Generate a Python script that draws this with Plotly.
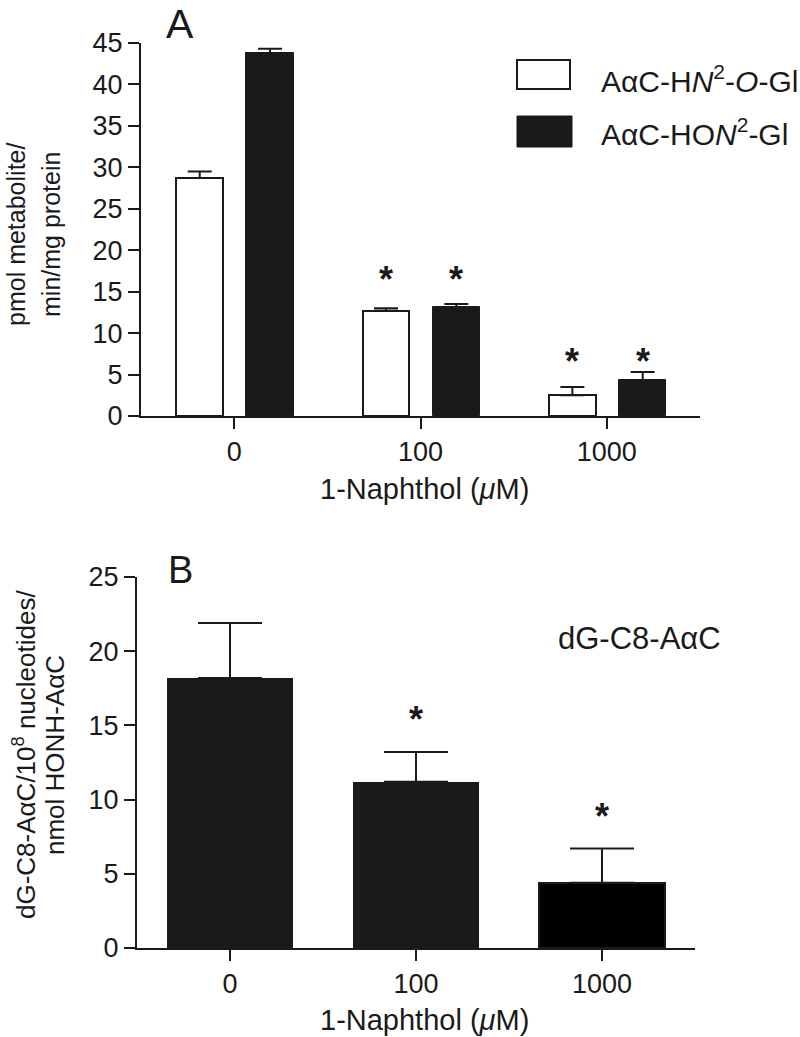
import plotly.graph_objects as go

# ---------------- data ----------------
categories = ["0", "100", "1000"]

# Panel A
a_ho_gl_mean = [28.7, 12.7, 2.5]      # AαC-HN2-O-Gl (white)
a_ho_gl_err = [0.8, 0.3, 1.0]
a_hon_gl_mean = [43.8, 13.1, 4.3]     # AαC-HON2-Gl (black)
a_hon_gl_err = [0.5, 0.4, 1.0]
a_sig_level = [None, 17.1, 7.2]       # height of the "*" marks per group

# Panel B
b_mean = [18.2, 11.2, 4.4]
b_err = [3.7, 2.0, 2.3]
b_sig_level = [None, 15.8, 9.2]

A_YTICKS = [0, 5, 10, 15, 20, 25, 30, 35, 40, 45]
B_YTICKS = [0, 5, 10, 15, 20, 25]

# ---------------- style ----------------
W, H = 800, 1037
FONT = "Arial"
DARK = "#1a1a1a"


def px(x):
    return x / W


def py(y):
    return 1 - y / H


xs = list(range(len(categories)))

fig = go.Figure()

A_W1, A_OFF1 = 0.25, -0.31
A_W2, A_OFF2 = 0.255, 0.065

fig.add_trace(go.Bar(
    x=xs, y=a_ho_gl_mean, width=A_W1, offset=A_OFF1,
    marker=dict(color="white", line=dict(color=DARK, width=2)),
    error_y=dict(type="data", array=a_ho_gl_err, arrayminus=[0] * 3, symmetric=False,
                 color=DARK, thickness=2, width=12),
    xaxis="x", yaxis="y", showlegend=False, name="AαC-HN2-O-Gl"))

fig.add_trace(go.Bar(
    x=xs, y=a_hon_gl_mean, width=A_W2, offset=A_OFF2,
    marker=dict(color=DARK, line=dict(color=DARK, width=1)),
    error_y=dict(type="data", array=a_hon_gl_err, arrayminus=[0] * 3, symmetric=False,
                 color=DARK, thickness=2, width=12),
    xaxis="x", yaxis="y", showlegend=False, name="AαC-HON2-Gl"))

B_W = 0.68
fig.add_trace(go.Bar(
    x=xs, y=b_mean, width=B_W,
    marker=dict(color=[DARK, DARK, "#000000"], line=dict(color=DARK, width=[0, 0, 2])),
    error_y=dict(type="data", array=b_err, arrayminus=[0] * 3, symmetric=False,
                 color=DARK, thickness=2, width=32),
    xaxis="x2", yaxis="y2", showlegend=False, name="dG-C8-AαC"))

annotations = []
STAR_FONT = dict(family=FONT, size=36, color=DARK)
STAR_SHIFT = -28  # puts the asterisk glyph centre on the given level


def ann(x, y, text, font, **kw):
    d = dict(x=x, y=y, xref="paper", yref="paper", text=text, showarrow=False,
             xanchor="center", yanchor="middle", font=font)
    d.update(kw)
    return d


def star(x, y, xref, yref):
    return dict(x=x, y=y, xref=xref, yref=yref, text="<b>*</b>", showarrow=False,
                xanchor="center", yanchor="bottom", yshift=STAR_SHIFT, font=STAR_FONT)


for i in xs:
    if a_sig_level[i] is not None:
        annotations.append(star(i + A_OFF1 + A_W1 / 2, a_sig_level[i], "x", "y"))
        annotations.append(star(i + A_OFF2 + A_W2 / 2, a_sig_level[i], "x", "y"))
    if b_sig_level[i] is not None:
        annotations.append(star(i, b_sig_level[i], "x2", "y2"))

annotations.append(ann(px(180), 1.0, "A", dict(family=FONT, size=41, color=DARK),
                       yanchor="top", borderpad=0))
annotations.append(ann(px(180), py(570), "B", dict(family=FONT, size=38, color=DARK)))

TFONT = dict(family=FONT, size=29, color=DARK)
annotations.append(ann(px(424), py(489), "1-Naphthol (<i>μ</i>M)", TFONT))
annotations.append(ann(px(424), py(1020), "1-Naphthol (<i>μ</i>M)", TFONT))

YT_A = dict(family=FONT, size=25, color=DARK)
annotations.append(ann(px(16), py(235), "pmol metabolite/", YT_A, textangle=-90))
annotations.append(ann(px(51), py(235), "min/mg protein", YT_A, textangle=-90))
YT_B = dict(family=FONT, size=26, color=DARK)
annotations.append(ann(px(24), py(755), "dG-C8-AαC/10<sup>8</sup> nucleotides/", YT_B, textangle=-90))
annotations.append(ann(px(55), py(755), "nmol HONH-AαC", YT_B, textangle=-90))

annotations.append(ann(px(556), py(638), "dG-C8-AαC", dict(family=FONT, size=31, color=DARK),
                       xanchor="left"))

LFONT = dict(family=FONT, size=30, color=DARK)
annotations.append(ann(px(599), py(79), "AαC-H<i>N</i><sup>2</sup>-<i>O</i>-Gl", LFONT, xanchor="left"))
annotations.append(ann(px(599), py(132), "AαC-HO<i>N</i><sup>2</sup>-Gl", LFONT, xanchor="left"))

shapes = [
    dict(type="rect", xref="paper", yref="paper", x0=px(517), x1=px(570), y0=py(89), y1=py(60),
         fillcolor="white", line=dict(color=DARK, width=2)),
    dict(type="rect", xref="paper", yref="paper", x0=px(517), x1=px(572), y0=py(147), y1=py(116),
         fillcolor=DARK, line=dict(color=DARK, width=1)),
]

axis_common = dict(showgrid=False, zeroline=False, showline=True, linecolor=DARK, linewidth=2,
                   ticks="outside", ticklen=11, tickwidth=2, tickcolor=DARK, automargin=False,
                   tickfont=dict(family=FONT, size=27, color=DARK))

fig.update_layout(
    template="none",
    width=W, height=H, autosize=False,
    margin=dict(l=0, r=0, t=0, b=0, pad=0, autoexpand=False),
    paper_bgcolor="white", plot_bgcolor="white",
    font=dict(family=FONT, color=DARK),
    bargap=0,
    hovermode=False,
    xaxis=dict(domain=[px(141), px(700)], range=[-0.5, 2.5], tickvals=xs, ticktext=categories,
               anchor="y", **axis_common),
    yaxis=dict(domain=[py(416), py(43)], range=[0, 45], tickvals=A_YTICKS, anchor="x",
               **axis_common),
    xaxis2=dict(domain=[px(137), px(695)], range=[-0.5, 2.5], tickvals=xs, ticktext=categories,
                anchor="y2", **axis_common),
    yaxis2=dict(domain=[py(948), py(577)], range=[0, 25], tickvals=B_YTICKS, anchor="x2",
                **axis_common),
    annotations=annotations,
    shapes=shapes,
)

fig.write_html("out.html", config={"responsive": False, "displayModeBar": False},
               post_script="document.body.style.margin='0';document.body.style.padding='0';")
